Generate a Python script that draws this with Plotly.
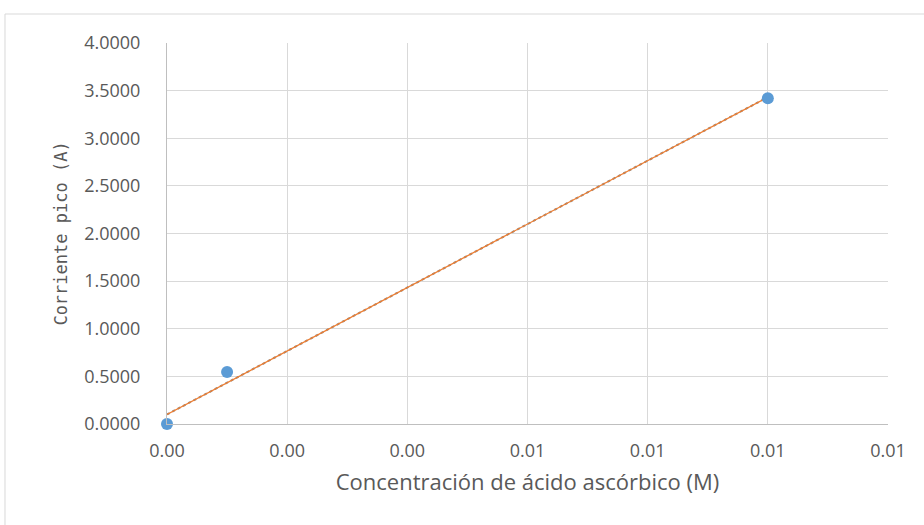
import numpy as np
import plotly.graph_objects as go

conc = [0.0, 0.001, 0.010]
current = [0.0, 0.545, 3.42]
x_ticks = [0.0, 0.002, 0.004, 0.006, 0.008, 0.010, 0.012]
y_ticks = [0.0, 0.5, 1.0, 1.5, 2.0, 2.5, 3.0, 3.5, 4.0]

slope, intercept = np.polyfit(conc, current, 1)
fit_x = [min(conc), max(conc)]
fit_y = [slope * v + intercept for v in fit_x]

tickfont = "Open Sans, sans-serif"
gray = "#595959"

fig = go.Figure()
fig.add_trace(go.Scatter(x=fit_x, y=fit_y, mode="lines",
                         line=dict(color="#8c8c8c", width=2, dash="dot"), showlegend=False))
fig.add_trace(go.Scatter(x=fit_x, y=fit_y, mode="lines",
                         line=dict(color="#ed7d31", width=1.3), showlegend=False))
fig.add_trace(go.Scatter(x=conc, y=current, mode="markers",
                         marker=dict(color="#5b9bd5", size=12), showlegend=False, cliponaxis=False))

fig.update_layout(
    width=924, height=525,
    margin=dict(l=167, r=36, t=43, b=101),
    paper_bgcolor="white", plot_bgcolor="white",
    font=dict(family=tickfont, color=gray, size=18),
    shapes=[dict(type="rect", xref="paper", yref="paper",
                 x0=-0.2247, x1=1.2, y0=-0.5, y1=1.0761,
                 line=dict(color="#d9d9d9", width=1), layer="below")],
)
fig.update_xaxes(range=[0, 0.012], tickvals=x_ticks, tickformat=".2f",
                 showgrid=True, gridcolor="#d9d9d9", gridwidth=1,
                 showline=True, linecolor="#bfbfbf", zeroline=False,
                 ticks="", ticklabelstandoff=10,
                 tickfont=dict(family=tickfont, size=18, color=gray),
                 title=dict(text="Concentración de ácido ascórbico (M)",
                            font=dict(family=tickfont, size=22, color=gray), standoff=14))
fig.update_yaxes(range=[0, 4], tickvals=y_ticks, tickformat=".4f",
                 showgrid=True, gridcolor="#d9d9d9", gridwidth=1,
                 showline=True, linecolor="#bfbfbf", zeroline=False,
                 ticks="", ticklabelstandoff=22,
                 tickfont=dict(family=tickfont, size=18, color=gray),
                 title=dict(text="Corriente pico (A)",
                            font=dict(family="DejaVu Sans Mono, monospace", size=17, color=gray), standoff=12))

fig.write_html("out.html")
